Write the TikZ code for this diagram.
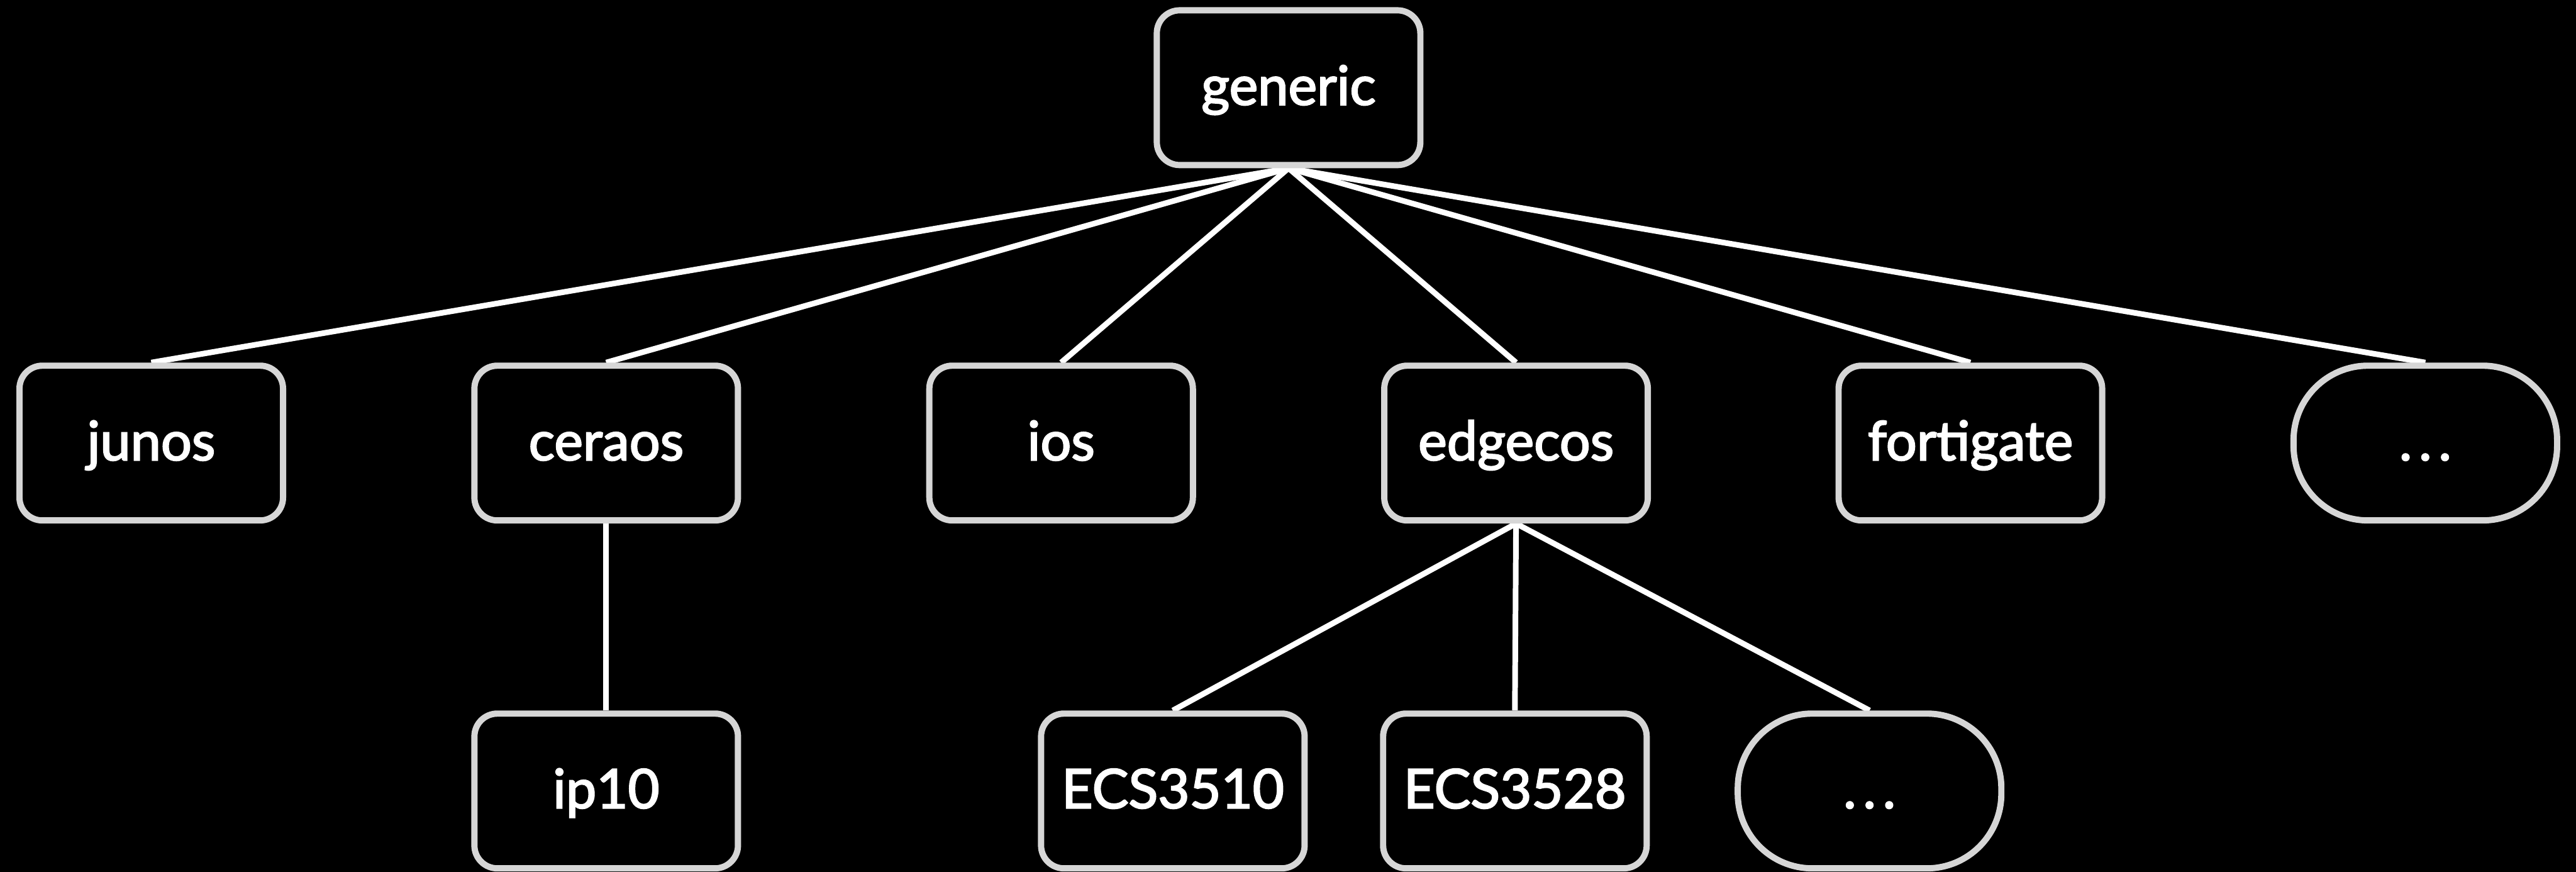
\documentclass[tikz,border=0pt]{standalone}
\usepackage{fontspec}
\setmainfont{Lato}
\newfontfamily\boxfont{Lato}[FakeBold=2.6]
\usetikzlibrary{backgrounds}
\begin{document}
\begin{tikzpicture}[
  box/.style={draw=boxgray, line width=3.1pt, fill=black, rounded corners=0.4cm,
    minimum width=4.6cm, minimum height=2.7cm, inner sep=0pt, text=white,
    text height=0.8cm, text depth=0.2cm,
    font=\boxfont\fontsize{27}{32}\selectfont},
  more/.style={box, rounded corners=1.3cm},
  link/.style={white, line width=2.8pt}
]
\definecolor{boxgray}{HTML}{D6D6D6}
\useasboundingbox (0 cm, 0 cm) rectangle (44.96 cm, 15.21 cm);
\node[box] (generic) at (22.49 cm, 13.68 cm) {generic};
\node[box] (junos) at (2.64 cm, 7.48 cm) {junos};
\node[box] (ceraos) at (10.58 cm, 7.48 cm) {ceraos};
\node[box] (ios) at (18.52 cm, 7.48 cm) {ios};
\node[box] (edgecos) at (26.46 cm, 7.48 cm) {edgecos};
\node[box] (fortigate) at (34.39 cm, 7.48 cm) {fortigate};
\node[more] (moreos) at (42.33 cm, 7.48 cm) {.\hspace{0.12cm}.\hspace{0.12cm}.};
\node[box] (ip10) at (10.58 cm, 1.41 cm) {ip10};
\node[box] (ecs3510) at (20.47 cm, 1.41 cm) {ECS3510};
\node[box] (ecs3528) at (26.44 cm, 1.41 cm) {ECS3528};
\node[more] (moreecs) at (32.63 cm, 1.41 cm) {.\hspace{0.12cm}.\hspace{0.12cm}.};
\begin{scope}[on background layer]
\fill[black] (0 cm, 0 cm) rectangle (44.96 cm, 15.21 cm);
\foreach \child in {junos, ceraos, ios, edgecos, fortigate, moreos}
  \draw[link] (generic.south) -- (\child.north);
\draw[link] (ceraos.south) -- (ip10.north);
\foreach \child in {ecs3510, ecs3528, moreecs}
  \draw[link] (edgecos.south) -- (\child.north);
\end{scope}
\end{tikzpicture}
\end{document}
